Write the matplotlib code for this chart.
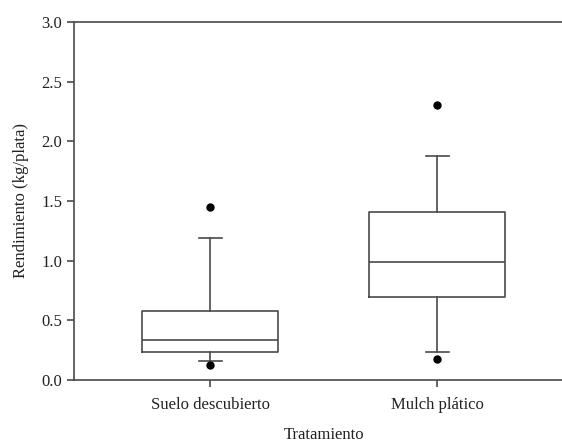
import matplotlib
matplotlib.use("Agg")
import matplotlib.pyplot as plt

# Box statistics (kg/plata)
treatments = ["Suelo descubierto", "Mulch plático"]
q1 = [0.237, 0.698]
medians = [0.335, 0.992]
q3 = [0.58, 1.405]
whisker_low = [0.159, 0.237]
whisker_high = [1.187, 1.877]
outliers = [[1.45, 0.123], [2.305, 0.173]]

yticks = [0.0, 0.5, 1.0, 1.5, 2.0, 2.5, 3.0]

plt.rcParams['font.family'] = ['Liberation Serif', 'DejaVu Serif']

line_col = '#4a4a4a'
text_col = '#222222'

fig = plt.figure(figsize=(5.62, 4.42), dpi=100)
ax = fig.add_axes([74 / 562, 62 / 442, 499.4 / 562, 358 / 442])

stats = []
for i, name in enumerate(treatments):
    stats.append({
        'label': name,
        'q1': q1[i], 'med': medians[i], 'q3': q3[i],
        'whislo': whisker_low[i], 'whishi': whisker_high[i],
        'fliers': outliers[i],
    })

ax.bxp(stats, positions=[1, 2], widths=0.6, capwidths=0.1,
       boxprops=dict(color=line_col, linewidth=1.2),
       medianprops=dict(color=line_col, linewidth=1.2),
       whiskerprops=dict(color=line_col, linewidth=1.2),
       capprops=dict(color=line_col, linewidth=1.2),
       flierprops=dict(marker='o', markerfacecolor='black',
                       markeredgecolor='black', markersize=5))

ax.set_xlim(0.4, 2.6)
ax.set_ylim(0, 3.0)
ax.set_yticks(yticks)
ax.set_yticklabels([f"{v:.1f}" for v in yticks])

for s in ax.spines.values():
    s.set_color(line_col)
    s.set_linewidth(1.2)

ax.tick_params(axis='both', colors=line_col, labelcolor=text_col,
               labelsize=12, length=5, width=1.2, direction='out')
ax.tick_params(axis='x', pad=7)

ax.set_ylabel("Rendimiento (kg/plata)", fontsize=12, color=text_col, labelpad=9)
ax.set_xlabel("Tratamiento", fontsize=12, color=text_col, labelpad=10)

fig.savefig("out.png", dpi=100)
